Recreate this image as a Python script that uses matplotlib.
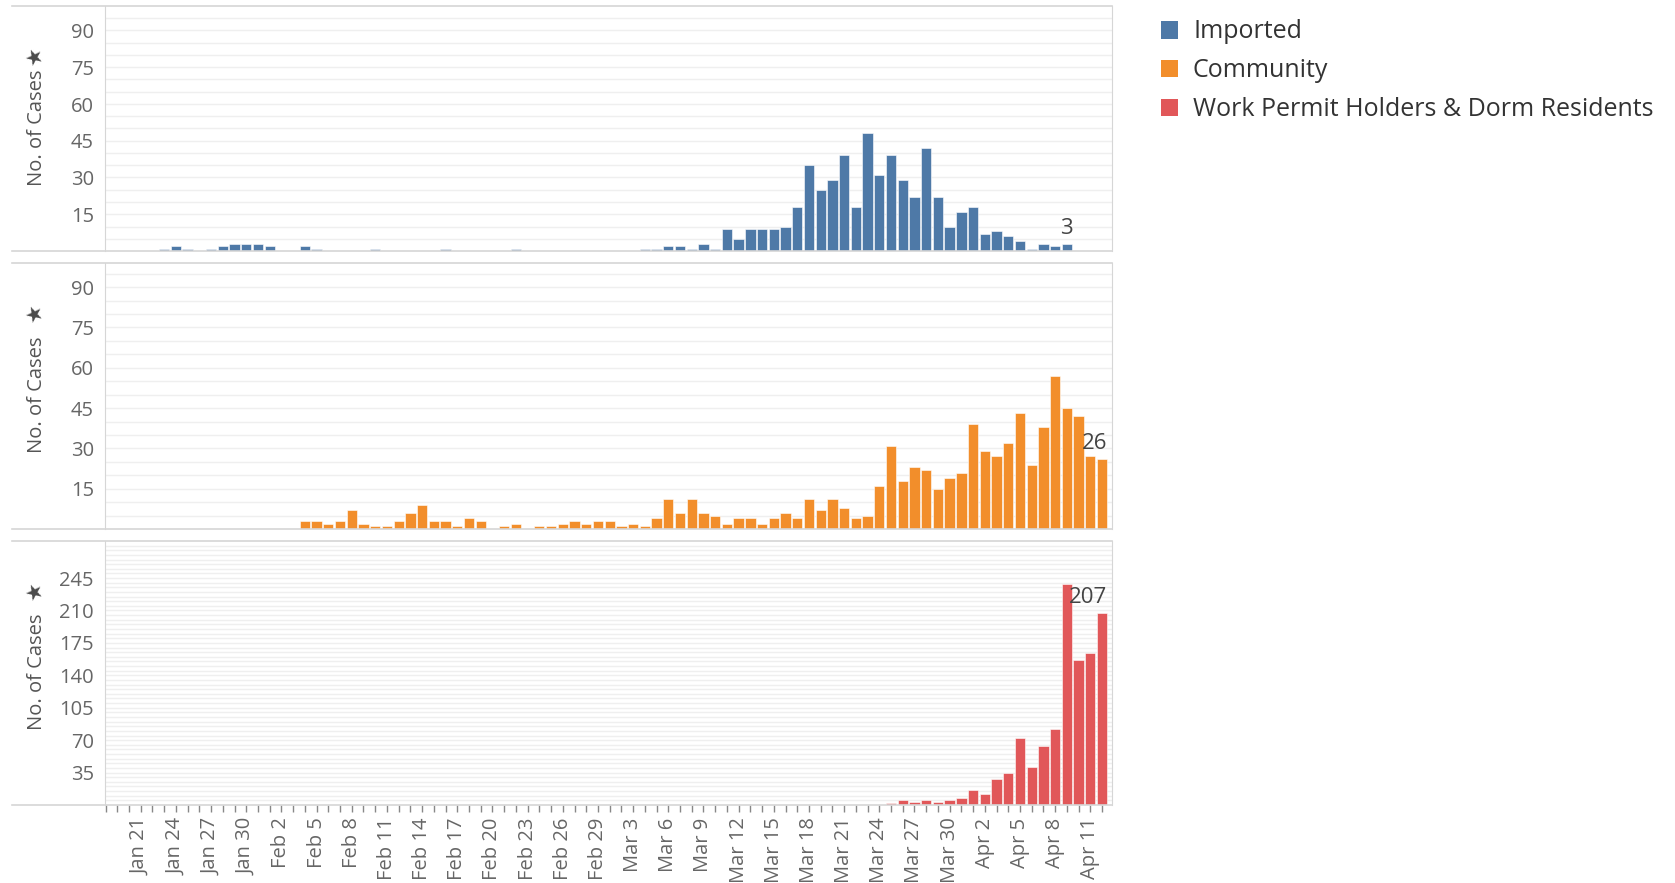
import numpy as np
import pandas as pd
import matplotlib
matplotlib.use('Agg')
import matplotlib.pyplot as plt
from matplotlib.patches import Patch
from matplotlib.lines import Line2D

plt.rcParams['font.family'] = ['Open Sans', 'DejaVu Sans']

dates = pd.date_range('2020-01-18', '2020-04-12')

# daily new cases, Jan 18 .. Apr 12
imported = ([0, 0, 0, 0, 0, 1, 2, 1, 0, 1, 2, 3, 3, 3] +                       # Jan 18-31
            [2, 0, 0, 2, 1, 0, 0, 0, 0, 1, 0, 0, 0, 0, 0, 1, 0, 0, 0, 0, 0, 1,
             0, 0, 0, 0, 0, 0, 0] +                                             # Feb
            [0, 0, 0, 1, 1, 2, 2, 1, 3, 1, 9, 5, 9, 9, 9, 10, 18, 35, 25, 29,
             39, 18, 48, 31, 39, 29, 22, 42, 22, 10, 16] +                      # Mar
            [18, 7, 8, 6, 4, 1, 3, 2, 3, 0, 0, 0])                              # Apr 1-12

community = ([0] * 14 +
             [0, 0, 0, 3, 3, 2, 3, 7, 2, 1, 1, 3, 6, 9, 3, 3, 1, 4, 3, 0, 1, 2,
              0, 1, 1, 2, 3, 2, 3] +
             [3, 1, 2, 1, 4, 11, 6, 11, 6, 5, 2, 4, 4, 2, 4, 6, 4, 11, 7, 11,
              8, 4, 5, 16, 31, 18, 23, 22, 15, 19, 21] +
             [39, 29, 27, 32, 43, 24, 38, 57, 45, 42, 27, 26])

dorm = ([0] * 14 + [0] * 29 +
        [0] * 24 + [2, 5, 3, 5, 3, 5, 8] +
        [16, 12, 28, 35, 72, 41, 64, 82, 239, 156, 164, 207])

series = ['Imported', 'Community', 'Work Permit Holders & Dorm Residents']
colors = ['#4e79a7', '#f28e2b', '#e15759']
ymax = [100, 99, 285]
yticks = [[15, 30, 45, 60, 75, 90], [15, 30, 45, 60, 75, 90],
          [35, 70, 105, 140, 175, 210, 245]]
tick_labels = [f'{d:%b} {d.day}' for d in dates]

W, H = 1675, 883
fig = plt.figure(figsize=(W / 100, H / 100), dpi=100)

# panel boxes in pixels: (top, bottom)
boxes = [(6, 251), (263, 529), (541, 805)]
left, right = 105, 1112
x = np.arange(len(dates))
grey = '#666666'
frame = '#d6d6d6'

for i, vals in enumerate([imported, community, dorm]):
    top, bot = boxes[i]
    ax = fig.add_axes([left / W, 1 - bot / H, (right - left) / W, (bot - top) / H])
    ax.bar(x, vals, width=0.88, color=colors[i], edgecolor='white', linewidth=0.4, zorder=3)
    ax.set_xlim(-0.05, 85.85)
    ax.set_ylim(0, ymax[i])
    ax.set_yticks(yticks[i])
    ax.set_yticks(np.arange(5, ymax[i], 5), minor=True)
    ax.grid(axis='y', which='both', color='#efefef', linewidth=1, zorder=0)
    ax.tick_params(axis='y', which='both', length=0, labelsize=14.5, labelcolor=grey, pad=8)
    for s in ['top', 'bottom']:
        ax.spines[s].set_visible(False)
    ax.spines['left'].set_color(frame)
    ax.spines['right'].set_color(frame)
    if i < 2:
        ax.set_xticks([])
    else:
        ax.set_xticks(x)
        ax.set_xticklabels([t if (k - 3) % 3 == 0 and k >= 3 else '' for k, t in enumerate(tick_labels)],
                           rotation=90)
        ax.tick_params(axis='x', length=5, color='#888888', width=1, labelsize=14.5,
                       labelcolor=grey, pad=4)
    # last-value labels
    last = max(k for k, v in enumerate(vals) if v > 0)
    if i == 0:
        ax.text(last, vals[last] + 2, str(vals[last]), ha='center', va='bottom',
                fontsize=16, color='#444444', zorder=4)
    else:
        ax.text(last + 0.45, vals[last] + ymax[i] * 0.02, str(vals[last]), ha='right',
                va='bottom', fontsize=16, color='#444444', zorder=4)
    fig.text(37 / W, 1 - ((top + bot) / 2 - 1) / H, 'No. of Cases', rotation=90,
             ha='center', va='center', fontsize=14.5, color='#555555')
    fig.text(35 / W, 1 - (top + 52) / H, '★', rotation=25, ha='center', va='center',
             fontsize=15, color='#4a4a4a', family='DejaVu Sans')
    # panel frame lines reaching the header column
    for yy in (top, bot):
        fig.add_artist(Line2D([12 / W, right / W], [1 - yy / H, 1 - yy / H],
                              color=frame, linewidth=1.2))

handles = [Patch(facecolor=c, edgecolor='none') for c in colors]
fig.legend(handles, series, loc='upper left', bbox_to_anchor=(1138 / W, 1 + 3 / H),
           frameon=False, fontsize=18, handlelength=0.7, handleheight=0.7,
           handletextpad=0.6, labelspacing=0.55, labelcolor='#333333')

fig.savefig('out.png', dpi=100, facecolor='white')
